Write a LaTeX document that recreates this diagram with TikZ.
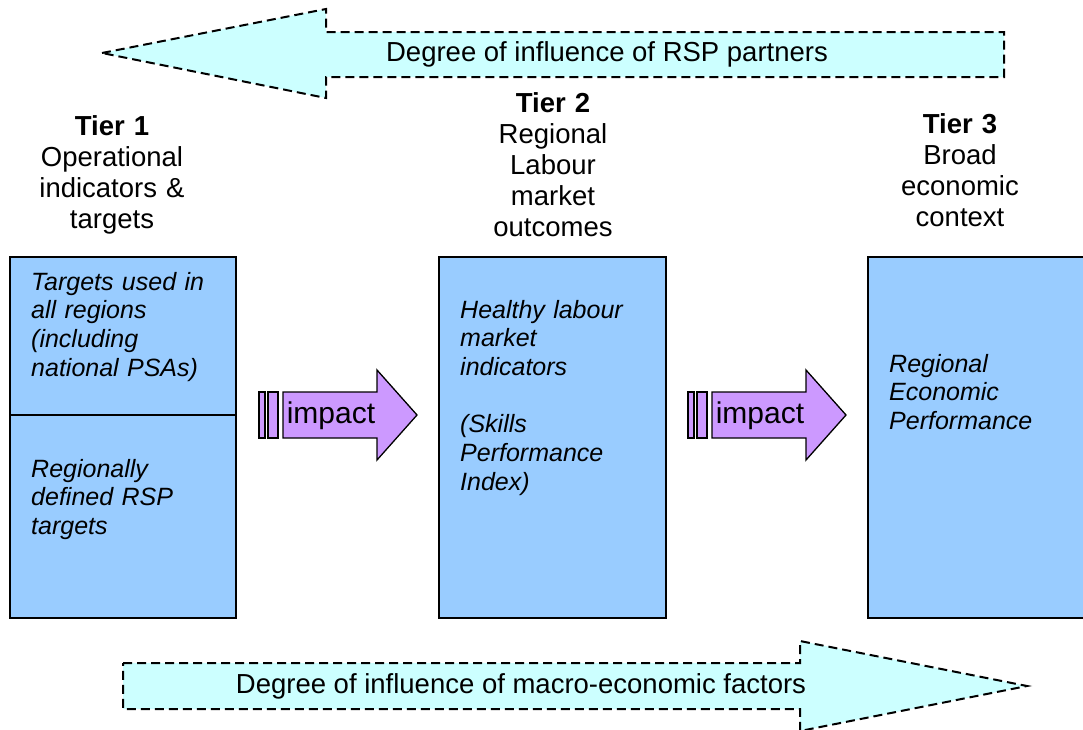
\documentclass[tikz,border=0pt]{standalone}
\usepackage{fontspec}
\setmainfont{Liberation Sans}

\definecolor{boxblue}{HTML}{99CCFF}
\definecolor{inflcyan}{HTML}{CCFFFF}
\definecolor{impviolet}{HTML}{CC99FF}

\begin{document}
\begin{tikzpicture}[x=1pt, y=-1pt,
  tierbox/.style={draw=black, line width=1.3pt, fill=boxblue},
  tierhead/.style={anchor=base, align=center, text width=230pt, inner sep=0pt, font=\fontsize{27.5}{31}\selectfont},
  boxtext/.style={anchor=base west, align=left, text width=205pt, inner sep=0pt, font=\fontsize{25}{28.7}\selectfont\itshape},
  influence/.style={draw=black, fill=inflcyan, line width=2pt, dash pattern=on 9pt off 5pt},
  impactarrow/.style={draw=black, fill=impviolet, line width=1.3pt}]
\useasboundingbox (0,0) rectangle (1083,729);

% influence arrows
\draw[influence] (102,53)--(326,9)--(326,32)--(1004,32)--(1004,77)--(326,77)--(326,98)--cycle;
\draw[influence] (123,663)--(800,663)--(800,641)--(1027,686)--(800,731)--(800,709)--(123,709)--cycle;
\node[anchor=base, inner sep=0pt, font=\fontsize{27.5}{31}\selectfont] (rspinfl) at (607,61) {Degree of influence of RSP partners};
\node[anchor=base, inner sep=0pt, font=\fontsize{27.5}{31}\selectfont] (macroinfl) at (521,693) {Degree of influence of macro-economic factors};

% tiers
\node[tierhead] (tierone) at (112,135) {\textbf{Tier 1}\\Operational\\indicators \&\\targets};
\node[tierhead] (tiertwo) at (553,112) {\textbf{Tier 2}\\Regional\\Labour\\market\\outcomes};
\node[tierhead] (tierthree) at (960,133) {\textbf{Tier 3}\\Broad\\economic\\context};

\draw[tierbox] (10,257) rectangle (236,618);
\draw[black, line width=1.3pt] (10,415)--(236,415);
\draw[tierbox] (439,257) rectangle (666,618);
\draw[tierbox] (868,257) rectangle (1100,618);

\node[boxtext] (alltargets) at (31,290) {Targets used in\\all regions\\(including\\national PSAs)};
\node[boxtext] (rsptargets) at (31,477) {Regionally\\defined RSP\\targets};
\node[boxtext] (labourind) at (460,318) {Healthy labour\\market\\indicators\\[28.7pt](Skills\\Performance\\Index)};
\node[boxtext] (econperf) at (889,372) {Regional\\Economic\\Performance};

% impact arrows
\foreach \dx [count=\i] in {0,429} {
  \draw[impactarrow] (259+\dx,392) rectangle (265+\dx,438);
  \draw[impactarrow] (268+\dx,392) rectangle (278+\dx,438);
  \draw[impactarrow] (283+\dx,392)--(377+\dx,392)--(377+\dx,370)--(417+\dx,415)--(377+\dx,460)--(377+\dx,438)--(283+\dx,438)--cycle;
  \node[anchor=base, inner sep=0pt, font=\fontsize{30}{33}\selectfont] (impact\i) at (331+\dx,423) {impact};
}

\end{tikzpicture}
\end{document}
